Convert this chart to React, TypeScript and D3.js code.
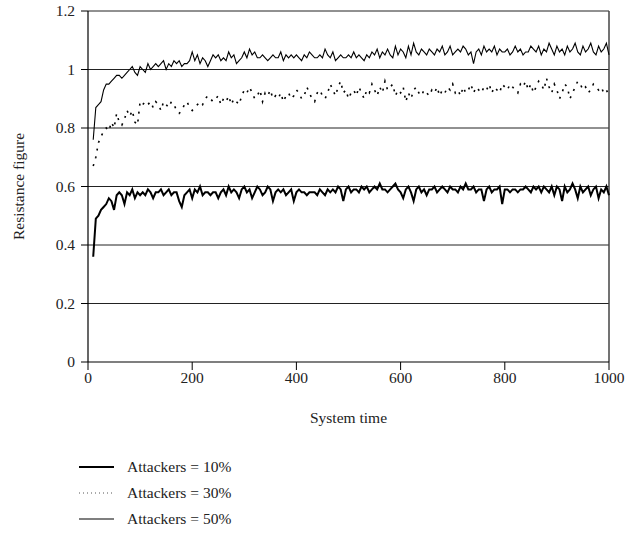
import React from 'react';
import * as d3 from 'd3';

// system time sampled every 5 units, starting at 10
const times = d3.range(10, 1001, 5);

const attackers10 = [
  0.36, 0.49, 0.50, 0.52, 0.53, 0.54, 0.56, 0.55, 0.52, 0.57,
  0.58, 0.57, 0.54, 0.58, 0.57, 0.59, 0.56, 0.58, 0.57, 0.58,
  0.57, 0.59, 0.58, 0.56, 0.58, 0.58, 0.59, 0.57, 0.58, 0.59,
  0.57, 0.58, 0.58, 0.55, 0.53, 0.57, 0.58, 0.59, 0.56, 0.59,
  0.58, 0.60, 0.57, 0.58, 0.58, 0.57, 0.58, 0.58, 0.56, 0.58,
  0.59, 0.57, 0.60, 0.58, 0.59, 0.58, 0.56, 0.59, 0.60, 0.58,
  0.59, 0.56, 0.58, 0.60, 0.59, 0.57, 0.58, 0.60, 0.59, 0.55,
  0.58, 0.59, 0.58, 0.59, 0.57, 0.58, 0.59, 0.55, 0.58, 0.59,
  0.58, 0.58, 0.57, 0.58, 0.58, 0.58, 0.57, 0.59, 0.58, 0.57,
  0.59, 0.58, 0.59, 0.58, 0.60, 0.59, 0.55, 0.59, 0.60, 0.58,
  0.59, 0.59, 0.58, 0.60, 0.59, 0.60, 0.58, 0.59, 0.60, 0.59,
  0.61, 0.59, 0.59, 0.58, 0.59, 0.60, 0.61, 0.59, 0.58, 0.56,
  0.59, 0.60, 0.58, 0.55, 0.59, 0.60, 0.58, 0.59, 0.57, 0.59,
  0.59, 0.60, 0.58, 0.59, 0.60, 0.59, 0.58, 0.60, 0.59, 0.59,
  0.58, 0.60, 0.59, 0.61, 0.59, 0.59, 0.60, 0.58, 0.59, 0.59,
  0.55, 0.59, 0.60, 0.58, 0.59, 0.59, 0.60, 0.54, 0.59, 0.59,
  0.58, 0.59, 0.59, 0.58, 0.59, 0.59, 0.60, 0.59, 0.58, 0.60,
  0.59, 0.60, 0.58, 0.60, 0.59, 0.58, 0.60, 0.57, 0.60, 0.59,
  0.55, 0.60, 0.58, 0.59, 0.61, 0.59, 0.56, 0.60, 0.58, 0.59,
  0.60, 0.57, 0.59, 0.60, 0.56, 0.59, 0.58, 0.60, 0.57,
];

const attackers30 = [
  0.67, 0.70, 0.75, 0.77, 0.79, 0.80, 0.79, 0.82, 0.80, 0.85,
  0.82, 0.81, 0.83, 0.86, 0.84, 0.86, 0.82, 0.81, 0.89, 0.88,
  0.89, 0.88, 0.89, 0.87, 0.89, 0.88, 0.86, 0.89, 0.88, 0.87,
  0.89, 0.88, 0.86, 0.85, 0.86, 0.88, 0.89, 0.87, 0.86, 0.87,
  0.88, 0.89, 0.88, 0.90, 0.91, 0.90, 0.89, 0.90, 0.91, 0.88,
  0.90, 0.89, 0.91, 0.88, 0.90, 0.89, 0.88, 0.91, 0.93, 0.92,
  0.94, 0.92, 0.90, 0.91, 0.93, 0.89, 0.92, 0.91, 0.93, 0.90,
  0.91, 0.90, 0.92, 0.89, 0.91, 0.92, 0.90, 0.91, 0.93, 0.92,
  0.90, 0.91, 0.94, 0.92, 0.90, 0.89, 0.92, 0.93, 0.91, 0.90,
  0.92, 0.95, 0.93, 0.91, 0.94, 0.96, 0.92, 0.93, 0.90, 0.92,
  0.93, 0.91, 0.94, 0.92, 0.90, 0.93, 0.92, 0.95, 0.93, 0.91,
  0.94, 0.92, 0.96, 0.93, 0.94, 0.95, 0.91, 0.93, 0.92, 0.94,
  0.89, 0.92, 0.90, 0.93, 0.94, 0.92, 0.91, 0.93, 0.92, 0.91,
  0.93, 0.92, 0.94, 0.91, 0.93, 0.92, 0.94, 0.93, 0.95, 0.92,
  0.93, 0.91, 0.94, 0.92, 0.93, 0.95, 0.92, 0.94, 0.93, 0.92,
  0.94, 0.93, 0.95, 0.92, 0.94, 0.93, 0.92, 0.95, 0.94, 0.93,
  0.95, 0.94, 0.93, 0.92, 0.95, 0.94, 0.96, 0.93, 0.95, 0.92,
  0.94, 0.96, 0.95, 0.93, 0.97, 0.94, 0.92, 0.95, 0.93, 0.90,
  0.92, 0.95, 0.94, 0.90, 0.92, 0.94, 0.96, 0.95, 0.93, 0.94,
  0.92, 0.93, 0.95, 0.94, 0.93, 0.94, 0.92, 0.93, 0.91,
];

const attackers50 = [
  0.76, 0.87, 0.88, 0.89, 0.93, 0.95, 0.95, 0.96, 0.97, 0.98,
  0.98, 0.97, 0.98, 0.99, 1.00, 1.01, 0.99, 0.98, 1.01, 1.00,
  0.99, 1.02, 1.00, 1.01, 1.02, 1.01, 1.02, 1.03, 1.00, 1.02,
  1.01, 1.03, 1.02, 1.03, 1.01, 1.02, 1.02, 1.03, 1.06, 1.03,
  1.05, 1.02, 1.04, 1.03, 1.01, 1.03, 1.05, 1.04, 1.05, 1.03,
  1.04, 1.03, 1.06, 1.04, 1.05, 1.02, 1.03, 1.04, 1.06, 1.04,
  1.07, 1.05, 1.06, 1.04, 1.04, 1.05, 1.04, 1.03, 1.04, 1.05,
  1.04, 1.04, 1.06, 1.03, 1.05, 1.04, 1.05, 1.04, 1.05, 1.04,
  1.03, 1.05, 1.04, 1.06, 1.05, 1.04, 1.04, 1.05, 1.04, 1.07,
  1.05, 1.04, 1.06, 1.03, 1.04, 1.05, 1.04, 1.04, 1.05, 1.04,
  1.06, 1.04, 1.05, 1.04, 1.03, 1.05, 1.04, 1.06, 1.05, 1.07,
  1.04, 1.06, 1.05, 1.07, 1.05, 1.04, 1.08, 1.05, 1.07, 1.06,
  1.04, 1.08, 1.05, 1.09, 1.06, 1.05, 1.07, 1.06, 1.05, 1.07,
  1.06, 1.05, 1.07, 1.06, 1.08, 1.05, 1.06, 1.08, 1.05, 1.06,
  1.07, 1.06, 1.08, 1.07, 1.05, 1.06, 1.02, 1.06, 1.07, 1.05,
  1.08, 1.06, 1.07, 1.06, 1.08, 1.05, 1.07, 1.06, 1.06, 1.07,
  1.05, 1.06, 1.08, 1.06, 1.07, 1.05, 1.06, 1.06, 1.08, 1.07,
  1.06, 1.08, 1.05, 1.07, 1.06, 1.09, 1.07, 1.05, 1.08, 1.06,
  1.07, 1.05, 1.08, 1.06, 1.07, 1.09, 1.06, 1.05, 1.08, 1.06,
  1.07, 1.09, 1.06, 1.05, 1.08, 1.06, 1.07, 1.09, 1.05,
];

const xTicks = [0, 200, 400, 600, 800, 1000];
const yTicks = [0, 0.2, 0.4, 0.6, 0.8, 1, 1.2];
const legendLabels = ['Attackers = 10%', 'Attackers = 30%', 'Attackers = 50%'];

const W = 640;
const H = 533;
const margin = { left: 88, right: 31, top: 11, bottom: 171 };
const font = '"Liberation Serif", "DejaVu Serif", serif';

export default function App() {
  const x = d3.scaleLinear().domain([0, 1000]).range([margin.left, W - margin.right]);
  const y = d3.scaleLinear().domain([0, 1.2]).range([H - margin.bottom, margin.top]);

  const line = (vals: number[]) =>
    d3.line<number>()
      .x((_, i) => x(times[i]))
      .y(d => y(d))(vals) || '';

  const series = [
    { vals: attackers10, width: 2, dash: undefined as string | undefined },
    { vals: attackers30, width: 1.6, dash: '2 6' },
    { vals: attackers50, width: 1.1, dash: undefined },
  ];
  const legendDash = [undefined, '1 3', undefined];
  const legendWidth = [2, 1, 1.1];

  const x0 = x(0), x1 = x(1000), yb = y(0), yt = y(1.2);

  return (
    <svg width={W} height={H} style={{ position: 'absolute', left: 0, top: 0, background: '#fff' }}
      fontFamily={font}>
      {/* grid */}
      {yTicks.filter(t => t > 0 && t < 1.2).map(t => (
        <line key={t} x1={x0} x2={x1} y1={y(t)} y2={y(t)} stroke="#222" strokeWidth={1} />
      ))}
      {/* frame */}
      <line x1={x0} x2={x1} y1={yt} y2={yt} stroke="#222" strokeWidth={1} />
      <line x1={x1} x2={x1} y1={yt} y2={yb} stroke="#444" strokeWidth={1.5} />
      <line x1={x0} x2={x1} y1={yb} y2={yb} stroke="#000" strokeWidth={1.2} />
      <line x1={x0} x2={x0} y1={yt} y2={yb} stroke="#000" strokeWidth={1.2} />

      {/* series */}
      {series.map((s, i) => (
        <path key={i} d={line(s.vals)} fill="none" stroke="#000" strokeWidth={s.width}
          strokeDasharray={s.dash} strokeLinejoin="miter" />
      ))}

      {/* y ticks */}
      {yTicks.map(t => (
        <g key={t}>
          <line x1={x0 - 7} x2={x0} y1={y(t)} y2={y(t)} stroke="#000" strokeWidth={1} />
          <text x={x0 - 13} y={y(t) + 5} textAnchor="end" fontSize={15.5} fill="#222">{String(t)}</text>
        </g>
      ))}
      {/* x ticks */}
      {xTicks.map(t => (
        <g key={t}>
          <line x1={x(t)} x2={x(t)} y1={yb} y2={yb + 8} stroke="#000" strokeWidth={1} />
          <text x={x(t)} y={yb + 21} textAnchor="middle" fontSize={15.5} fill="#222">{t}</text>
        </g>
      ))}

      <text x={(x0 + x1) / 2} y={423} textAnchor="middle" fontSize={15.5} fill="#222">System time</text>
      <text transform={`translate(24, ${(yt + yb) / 2}) rotate(-90)`} textAnchor="middle" fontSize={15.5}
        fill="#222">Resistance figure</text>

      {/* legend */}
      {legendLabels.map((lab, i) => (
        <g key={lab} transform={`translate(0, ${467 + i * 26})`}>
          <line x1={79} x2={114} y1={0} y2={0} stroke={i === 1 ? '#555' : '#000'} strokeWidth={legendWidth[i]}
            strokeDasharray={legendDash[i]} />
          <text x={127} y={5} fontSize={15.5} fill="#222">{lab}</text>
        </g>
      ))}
    </svg>
  );
}
